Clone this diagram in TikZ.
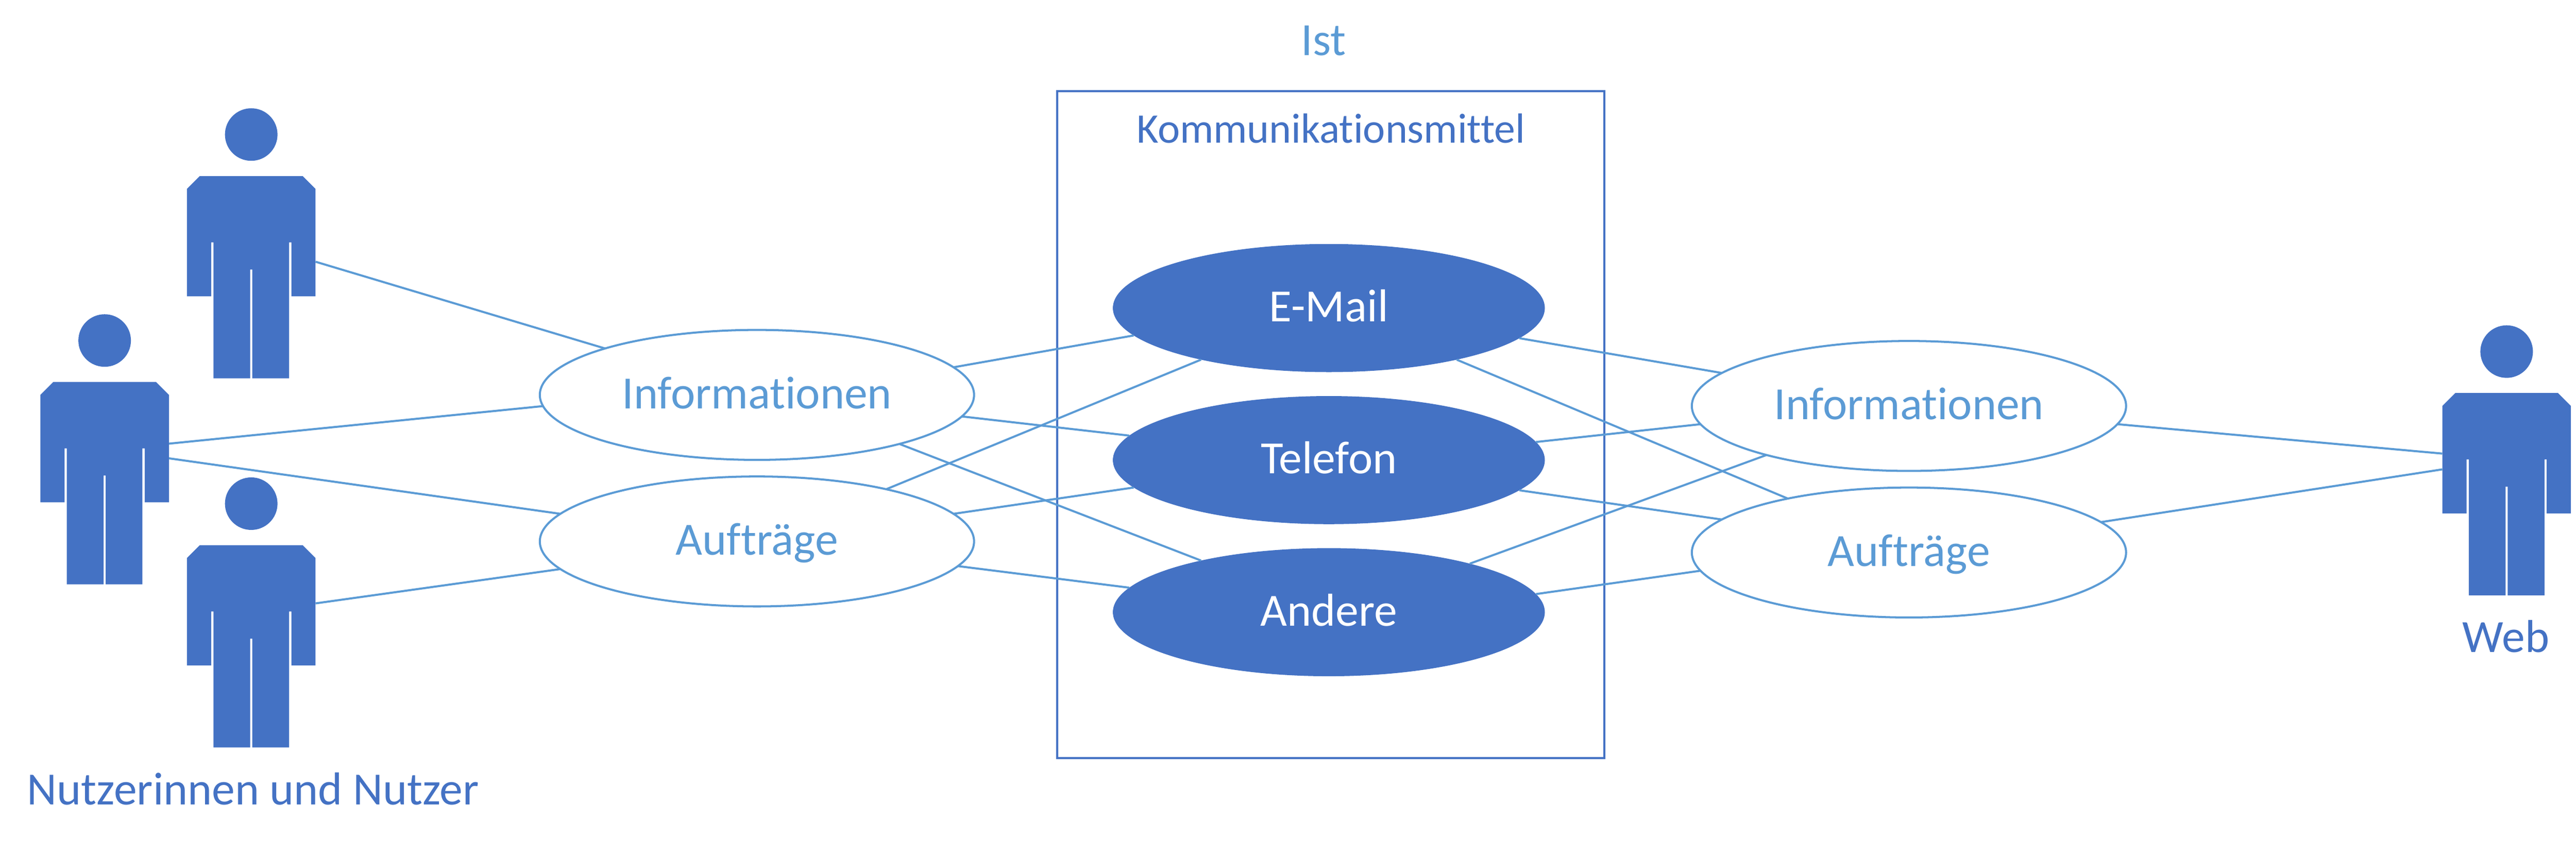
\documentclass[tikz,border=0pt]{standalone}
\usepackage{fontspec}
\usepackage{tikz}
\usetikzlibrary{shapes.geometric}
\setmainfont{Carlito}[Ligatures=NoCommon]
\definecolor{dunkelblau}{HTML}{4472C4}
\definecolor{hellblau}{HTML}{5B9BD5}
\tikzset{
  strich/.style={line width=0.045cm},
  figur/.style={rectangle,inner sep=0pt,outer sep=0pt,minimum width=2.79cm,minimum height=5.86cm,
    path picture={
      \begin{scope}[shift={(path picture bounding box.center)}]
      \fill[dunkelblau] (0,2.36) circle (0.57);
      \fill[dunkelblau] (-1.395,1.18) -- (-1.115,1.46) -- (1.115,1.46) -- (1.395,1.18) -- (1.395,-1.15)
        -- (0.87,-1.15) -- (0.87,0.02) -- (0.82,0.02) -- (0.82,-2.93) -- (0.023,-2.93) -- (0.023,-0.57)
        -- (-0.023,-0.57) -- (-0.023,-2.93) -- (-0.82,-2.93) -- (-0.82,0.02) -- (-0.87,0.02)
        -- (-0.87,-1.15) -- (-1.395,-1.15) -- cycle;
      \end{scope}
    }},
  thema/.style={ellipse,draw=hellblau,strich,fill=white,inner sep=0pt,outer sep=0pt,minimum width=9.42cm,minimum height=2.82cm,
    text=hellblau,text height=0.59cm,text depth=0pt,font=\fontsize{28.5}{32}\selectfont},
  mittel/.style={ellipse,fill=dunkelblau,inner sep=0pt,outer sep=0pt,minimum width=9.37cm,minimum height=2.78cm,
    text=white,text height=0.59cm,text depth=0pt,font=\fontsize{28.5}{32}\selectfont},
  titel/.style={anchor=base,inner sep=0pt,font=\fontsize{28.5}{32}\selectfont}
}
\begin{document}
\begin{tikzpicture}
\useasboundingbox (0,0) rectangle (55.88,18.25);
% Rahmen
\node[rectangle,draw=dunkelblau,strich,minimum width=11.87cm,minimum height=14.48cm,inner sep=0pt] (rahmen) at (28.865,9.035) {};
% Personen
\node[figur] (nutzerA) at (5.45,12.97) {};
\node[figur] (nutzerB) at (2.27,8.50) {};
\node[figur] (nutzerC) at (5.45,4.96) {};
\node[figur] (web) at (54.375,8.26) {};
% Ellipsen
\node[thema] (infoL) at (16.42,9.68) {Informationen};
\node[thema] (auftragL) at (16.42,6.50) {Aufträge};
\node[mittel] (email) at (28.826,11.565) {E-Mail};
\node[mittel] (telefon) at (28.826,8.265) {Telefon};
\node[mittel] (andere) at (28.826,4.965) {Andere};
\node[thema] (infoR) at (41.41,9.44) {Informationen};
\node[thema] (auftragR) at (41.41,6.26) {Aufträge};
% Beschriftung
\node[titel,text=hellblau] (ist) at (28.71,17.045) {Ist};
\node[titel,text=dunkelblau,font=\fontsize{26}{30}\selectfont] (mitteltitel) at (28.87,15.15) {Kommunikationsmittel};
\node[titel,text=dunkelblau] (nutzertitel) at (5.49,0.79) {Nutzerinnen und Nutzer};
\node[titel,text=dunkelblau] (webtitel) at (54.36,4.10) {Web};
% Verbindungen
\foreach \a/\b in {nutzerA.-16.8/infoL.163.2,nutzerB.5.7/infoL.183.9,nutzerB.-8.2/auftragL.172,nutzerC.8.2/auftragL.188.1,
  infoL.8.6/email.188.7,infoL.-6.5/telefon.173.6,infoL.-19.4/andere.158.9,
  auftragL.22.4/email.202.3,auftragL.8.1/telefon.188.2,auftragL.-7.05/andere.173.1,
  email.-9.6/infoR.170.3,email.-22.7/auftragR.156.9,telefon.5.35/infoR.185.3,telefon.-9.2/auftragR.170.9,
  andere.19.5/infoR.199.6,andere.5.8/auftragR.185.9,infoR.-5.1/web.174.7,auftragR.9/web.188.6} {
\draw[hellblau,strich] (\a) -- (\b);
}
\end{tikzpicture}
\end{document}
